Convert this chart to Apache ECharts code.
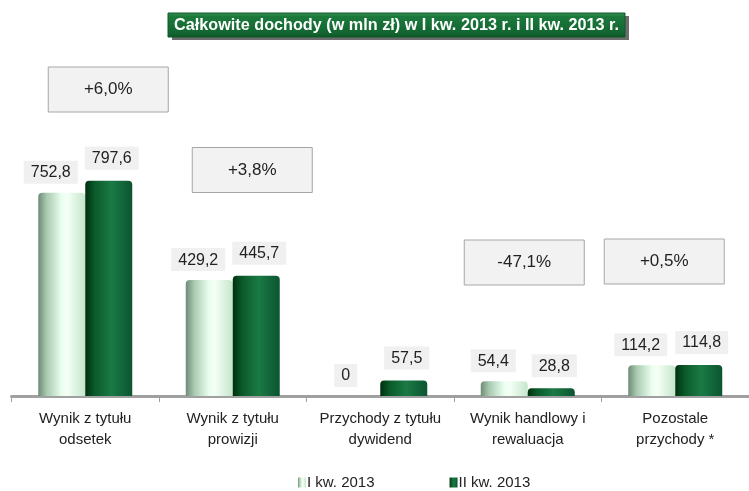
<!DOCTYPE html>
<html>
<head>
<meta charset="utf-8">
<script src="https://cdn.jsdelivr.net/npm/echarts@6/dist/echarts.min.js"></script>
<style>
html,body{margin:0;padding:0;background:#fff;}
#c{width:749px;height:491px;}
</style>
</head>
<body>
<div id="c"></div>
<script>
var titleText = 'Całkowite dochody (w mln zł) w I kw. 2013 r. i II kw. 2013 r.';
var categories = ['Wynik z tytułu\nodsetek', 'Wynik z tytułu\nprowizji', 'Przychody z tytułu\ndywidend', 'Wynik handlowy i\nrewaluacja', 'Pozostale\nprzychody *'];
var seriesNames = ['I kw. 2013', 'II kw. 2013'];
var q1 = [752.8, 429.2, 0, 54.4, 114.2];
var q2 = [797.6, 445.7, 57.5, 28.8, 114.8];
var changeCats = [0, 1, 3, 4];

var SANS = '"Liberation Sans", Arial, sans-serif';

function fmt(v){ return v.toFixed(1).replace('.', ','); }
function fmtLabel(v){ return v === 0 ? '0' : fmt(v); }
function pct(i){
  var p = (q2[i] / q1[i] - 1) * 100;
  return (p >= 0 ? '+' : '') + p.toFixed(1).replace('.', ',') + '%';
}

var lightGrad = new echarts.graphic.LinearGradient(0,0,1,0,[
  {offset:0,color:'#6f8c76'},{offset:0.18,color:'#a9c9b0'},{offset:0.5,color:'#eafff0'},
  {offset:0.62,color:'#f4fff6'},{offset:1,color:'#c5e6cc'}]);
var darkGrad = new echarts.graphic.LinearGradient(0,0,1,0,[
  {offset:0,color:'#00300f'},{offset:0.2,color:'#0a5a2a'},{offset:0.55,color:'#1b7a44'},
  {offset:0.8,color:'#11653a'},{offset:1,color:'#0b5530'}]);

var labelBase = {
  show: true, position: 'top', distance: 9,
  color: '#222', fontFamily: SANS, fontSize: 16,
  backgroundColor: '#f0f0f0', padding: [4, 7, 3, 7]
};

var chart = echarts.init(document.getElementById('c'), null, {renderer:'canvas'});
chart.setOption({
  animation: false,
  backgroundColor: '#fff',
  grid: { left: 11.5, width: 750, top: 126, bottom: 95 },
  legend: {
    top: 470, left: 293, itemWidth: 8, itemHeight: 10, itemGap: 75,
    icon: 'rect',
    textStyle: { fontFamily: SANS, fontSize: 15, color: '#222', padding: [0,0,0,-4] },
    data: seriesNames
  },
  xAxis: {
    type: 'category', data: categories,
    axisLine: { lineStyle: { color: '#a0a0a0', width: 3 } },
    axisTick: { show: true, length: 6, lineStyle: { color: '#a0a0a0', width: 1 } },
    axisLabel: { interval: 0, fontFamily: SANS, fontSize: 15, color: '#222', lineHeight: 21, margin: 12 }
  },
  yAxis: { type: 'value', min: 0, max: 1000, show: false, splitLine: { show: false } },
  series: [
    {
      name: seriesNames[0], type: 'bar', data: q1, barWidth: 47, barGap: '0%',
      itemStyle: { color: lightGrad, borderRadius: [4,4,0,0] },
      label: Object.assign({}, labelBase, { offset: [-11, 0], formatter: function(p){ return fmtLabel(p.value); } })
    },
    {
      name: seriesNames[1], type: 'bar', data: q2, barWidth: 47, barGap: '0%',
      itemStyle: { color: darkGrad, borderRadius: [4,4,0,0] },
      label: Object.assign({}, labelBase, { offset: [3, -2], formatter: function(p){ return fmtLabel(p.value); } })
    }
  ]
});

// annotation boxes (percentage change), anchored to category positions
var boxOffsetX = [23, 19.5, -3.5, -11];
var boxCenterY = [89.5, 170, 262.5, 261.5];
var elements = [];
changeCats.forEach(function(ci, k){
  var cx = chart.convertToPixel({xAxisIndex:0}, ci) + boxOffsetX[k];
  var cy = boxCenterY[k];
  elements.push({
    type: 'rect', shape: { x: cx - 60, y: cy - 22.5, width: 120, height: 45 },
    style: { fill: '#f2f2f2', stroke: '#a6a6a6', lineWidth: 1 }
  });
  elements.push({
    type: 'text', x: cx, y: cy,
    style: { text: pct(ci), fill: '#222', font: '17px ' + SANS, align: 'center', verticalAlign: 'middle' }
  });
});
// title banner (condensed bold text to fit banner)
var titleFont = 'bold 17px ' + SANS;
var mctx = document.createElement('canvas').getContext('2d');
mctx.font = titleFont;
var tw = mctx.measureText(titleText).width;
var sx = Math.min(1, 445 / tw);
elements.push({ type: 'rect', shape: { x: 172, y: 16, width: 457, height: 24 }, style: { fill: '#6d6d6d' } });
elements.push({
  type: 'rect', shape: { x: 168, y: 13, width: 457, height: 24 },
  style: {
    fill: new echarts.graphic.LinearGradient(0,0,0,1,[
      {offset:0,color:'#3a8f55'},{offset:0.15,color:'#1c7a3c'},{offset:0.85,color:'#126430'},{offset:1,color:'#0c5224'}]),
    stroke: '#0e5a2a', lineWidth: 1
  }
});
elements.push({
  type: 'text', x: 396.5, y: 25, scaleX: sx,
  style: { text: titleText, fill: '#ffffff', font: titleFont, align: 'center', verticalAlign: 'middle' }
});
chart.setOption({ graphic: elements });
</script>
</body>
</html>
